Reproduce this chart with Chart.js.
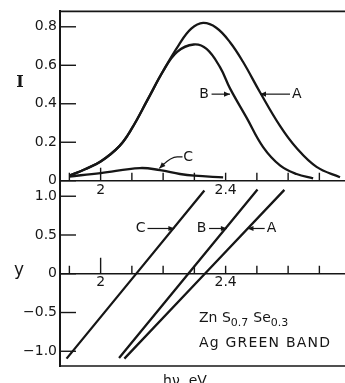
<!DOCTYPE html>
<html><head><meta charset="utf-8">
<script src="https://cdn.jsdelivr.net/npm/chart.js@4.4.1/dist/chart.umd.min.js"></script>
<style>html,body{margin:0;padding:0;background:#fff}#wrap{width:345px;height:383px;position:relative}</style>
</head><body><div id="wrap"><canvas id="c" width="345" height="383"></canvas></div>
<script>
// ---- data ----
// Top panel: emission intensity I vs photon energy h-nu (eV)
const energyA    = [1.90, 1.95, 2.00, 2.06, 2.10, 2.15, 2.20, 2.25, 2.29, 2.328, 2.37, 2.414, 2.456, 2.51, 2.574, 2.627, 2.691, 2.766];
const intensityA = [0.026, 0.06, 0.10, 0.18, 0.272, 0.42, 0.57, 0.705, 0.79, 0.82, 0.795, 0.72, 0.617, 0.46, 0.285, 0.17, 0.072, 0.018];
const energyB    = [1.90, 1.95, 2.00, 2.06, 2.10, 2.15, 2.20, 2.245, 2.298, 2.339, 2.382, 2.414, 2.467, 2.52, 2.574, 2.627, 2.68];
const intensityB = [0.026, 0.06, 0.10, 0.18, 0.272, 0.42, 0.57, 0.67, 0.708, 0.685, 0.59, 0.48, 0.328, 0.175, 0.08, 0.035, 0.012];
const energyC    = [1.90, 2.00, 2.126, 2.19, 2.254, 2.30, 2.392];
const intensityC = [0.022, 0.04, 0.066, 0.055, 0.035, 0.026, 0.017];
// Bottom panel: y vs photon energy (straight lines, end points)
const lineEnergyA = [2.076, 2.588];
const lineYA      = [-1.095, 1.082];
const lineEnergyB = [2.059, 2.502];
const lineYB      = [-1.088, 1.086];
const lineEnergyC = [1.891, 2.332];
const lineYC      = [-1.095, 1.073];
// ticks
const xTicks       = [1.9, 2.0, 2.1, 2.2, 2.3, 2.4, 2.5, 2.6, 2.7];
const xLabelValues = [2.0, 2.4];
const xLabelTexts  = ['2', '2.4'];
const topTicks      = [0, 0.2, 0.4, 0.6, 0.8];
const topTickLabels = ['0', '0.2', '0.4', '0.6', '0.8'];
const botTicks      = [-1.0, -0.5, 0, 0.5, 1.0];
const botTickLabels = ['\u22121.0', '\u22120.5', '0', '0.5', '1.0'];
// curve labels
const topCurveLabels = ['B', 'A'];
const botCurveLabels = ['C', 'B', 'A'];

// ---- styling / layout ----
const INK = '#161616';
const FONT = 'DejaVu Sans';
const pts = (xs, ys) => xs.map((v, i) => ({x: v, y: ys[i]}));
const curve = (data, axis) => ({data, yAxisID: axis, borderColor: INK, borderWidth: 2.3,
  pointRadius: 0, fill: false, tension: 0.4});

// annotation placement (data coordinates)
const topLabelPos = [
  {x: 2.331, y: 0.45, a1: 2.355, a2: 2.414},
  {x: 2.628, y: 0.45, a1: 2.606, a2: 2.51}
];
const botLabelPos = [
  {x: 2.128, y: 0.584, a1: 2.150, a2: 2.236},
  {x: 2.323, y: 0.584, a1: 2.347, a2: 2.404},
  {x: 2.547, y: 0.584, a1: 2.525, a2: 2.470}
];

function arrow(ctx, x1, y1, x2, y2) {
  ctx.beginPath(); ctx.moveTo(x1, y1); ctx.lineTo(x2, y2); ctx.stroke();
  const ang = Math.atan2(y2 - y1, x2 - x1), L = 6, W = 2.6;
  ctx.beginPath();
  ctx.moveTo(x2, y2);
  ctx.lineTo(x2 - L * Math.cos(ang) + W * Math.sin(ang), y2 - L * Math.sin(ang) - W * Math.cos(ang));
  ctx.lineTo(x2 - L * Math.cos(ang) - W * Math.sin(ang), y2 - L * Math.sin(ang) + W * Math.cos(ang));
  ctx.closePath(); ctx.fill();
}

const decor = {
  id: 'decor',
  afterDraw(chart) {
    const {ctx, chartArea: ca, scales} = chart;
    const sx = scales.x, yT = scales.yTop, yB = scales.yBot;
    const line = (a, b, c, d) => { ctx.beginPath(); ctx.moveTo(a, b); ctx.lineTo(c, d); ctx.stroke(); };
    ctx.save();
    ctx.strokeStyle = INK; ctx.fillStyle = INK; ctx.lineWidth = 1.6;
    // frame
    line(ca.left, ca.top, ca.right, ca.top);
    line(ca.left, ca.bottom, ca.right, ca.bottom);
    const y0T = yT.getPixelForValue(0), y0B = yB.getPixelForValue(0);
    line(ca.left, y0T, ca.right, y0T);
    line(ca.left, y0B, ca.right, y0B);
    // x ticks on both zero lines
    ctx.lineWidth = 1.4;
    xTicks.forEach(v => {
      const px = sx.getPixelForValue(v);
      const major = Math.abs(v - 2.0) < 1e-6;
      line(px, y0T, px, y0T - (major ? 13 : 8));
      line(px, y0B, px, y0B - (major ? 16 : 8));
    });
    // y inner ticks
    topTicks.forEach(v => { const py = yT.getPixelForValue(v); line(ca.left, py, ca.left + 16, py); });
    botTicks.forEach(v => { const py = yB.getPixelForValue(v); line(ca.left, py, ca.left + 16, py); });
    // x tick labels
    ctx.font = '14px "' + FONT + '"';
    ctx.textAlign = 'center'; ctx.textBaseline = 'middle';
    xLabelValues.forEach((v, i) => {
      const px = sx.getPixelForValue(v);
      ctx.fillText(xLabelTexts[i], px, y0T + 10);
      ctx.fillText(xLabelTexts[i], px, y0B + 9);
    });
    // curve labels top
    ctx.lineWidth = 1.2;
    topLabelPos.forEach((p, i) => {
      const py = yT.getPixelForValue(p.y);
      ctx.fillText(topCurveLabels[i], sx.getPixelForValue(p.x), py);
      arrow(ctx, sx.getPixelForValue(p.a1), py, sx.getPixelForValue(p.a2), py);
    });
    // C leader in top panel
    {
      const tx = sx.getPixelForValue(2.28), ty = yT.getPixelForValue(0.124);
      ctx.fillText('C', tx, ty);
      const x1 = sx.getPixelForValue(2.262), x2 = sx.getPixelForValue(2.245);
      const x3 = sx.getPixelForValue(2.188), y3 = yT.getPixelForValue(0.064);
      ctx.beginPath(); ctx.moveTo(x1, ty); ctx.lineTo(x2, ty);
      ctx.quadraticCurveTo(x2 - 6, ty, x3 + 3, y3 - 3); ctx.stroke();
      arrow(ctx, x3 + 5, y3 - 5, x3, y3);
    }
    botLabelPos.forEach((p, i) => {
      const py = yB.getPixelForValue(p.y);
      ctx.fillText(botCurveLabels[i], sx.getPixelForValue(p.x), py);
      arrow(ctx, sx.getPixelForValue(p.a1), py, sx.getPixelForValue(p.a2), py);
    });
    // sample note
    ctx.textAlign = 'left'; ctx.textBaseline = 'alphabetic';
    let cx = 199; const by = 322;
    const seg = (t, size, dy) => { ctx.font = size + 'px "' + FONT + '"'; ctx.fillText(t, cx, by + dy); cx += ctx.measureText(t).width; };
    seg('Zn S', 14, 0); seg('0.7', 11, 4); cx += 5; seg('Se', 14, 0); seg('0.3', 11, 4);
    ctx.font = '14px "' + FONT + '"';
    ctx.letterSpacing = '1.2px';
    ctx.fillText('Ag GREEN BAND', 199, 347);
    ctx.letterSpacing = '0px';
    // axis titles
    ctx.textAlign = 'center';
    ctx.fillText('h\u03bd, eV', 185, 385);
    ctx.font = 'bold 16px "DejaVu Serif"';
    ctx.textBaseline = 'middle';
    ctx.fillText('I', 20, 83);
    ctx.font = '17px "' + FONT + '"';
    ctx.fillText('y', 19, 271);
    ctx.restore();
  }
};

const yCommon = (ticksArr, labelsArr) => ({
  type: 'linear', position: 'left', stack: 'panels',
  afterFit: s => { s.width = 60; },
  afterBuildTicks: s => { s.ticks = ticksArr.map(v => ({value: v})); },
  grid: {display: false, drawTicks: false},
  border: {display: true, color: INK, width: 2},
  ticks: {
    autoSkip: false, padding: 3, color: INK,
    font: {family: FONT, size: 14},
    callback: v => { const i = ticksArr.findIndex(t => Math.abs(t - v) < 1e-9); return i >= 0 ? labelsArr[i] : ''; }
  }
});

new Chart(document.getElementById('c'), {
  type: 'line',
  data: {
    datasets: [
      curve(pts(energyA, intensityA), 'yTop'),
      curve(pts(energyB, intensityB), 'yTop'),
      curve(pts(energyC, intensityC), 'yTop'),
      curve(pts(lineEnergyA, lineYA), 'yBot'),
      curve(pts(lineEnergyB, lineYB), 'yBot'),
      curve(pts(lineEnergyC, lineYC), 'yBot')
    ]
  },
  options: {
    responsive: false, animation: false, events: [],
    layout: {padding: {top: 10, bottom: 17, left: 0, right: 0}},
    plugins: {legend: {display: false}, tooltip: {enabled: false}},
    scales: {
      x: {type: 'linear', min: 1.87, max: 2.782, display: false},
      yBot: Object.assign(yCommon(botTicks, botTickLabels), {min: -1.19, max: 1.2, stackWeight: 186}),
      yTop: Object.assign(yCommon(topTicks, topTickLabels), {min: 0, max: 0.88, stackWeight: 170})
    }
  },
  plugins: [decor]
});
</script></body></html>
